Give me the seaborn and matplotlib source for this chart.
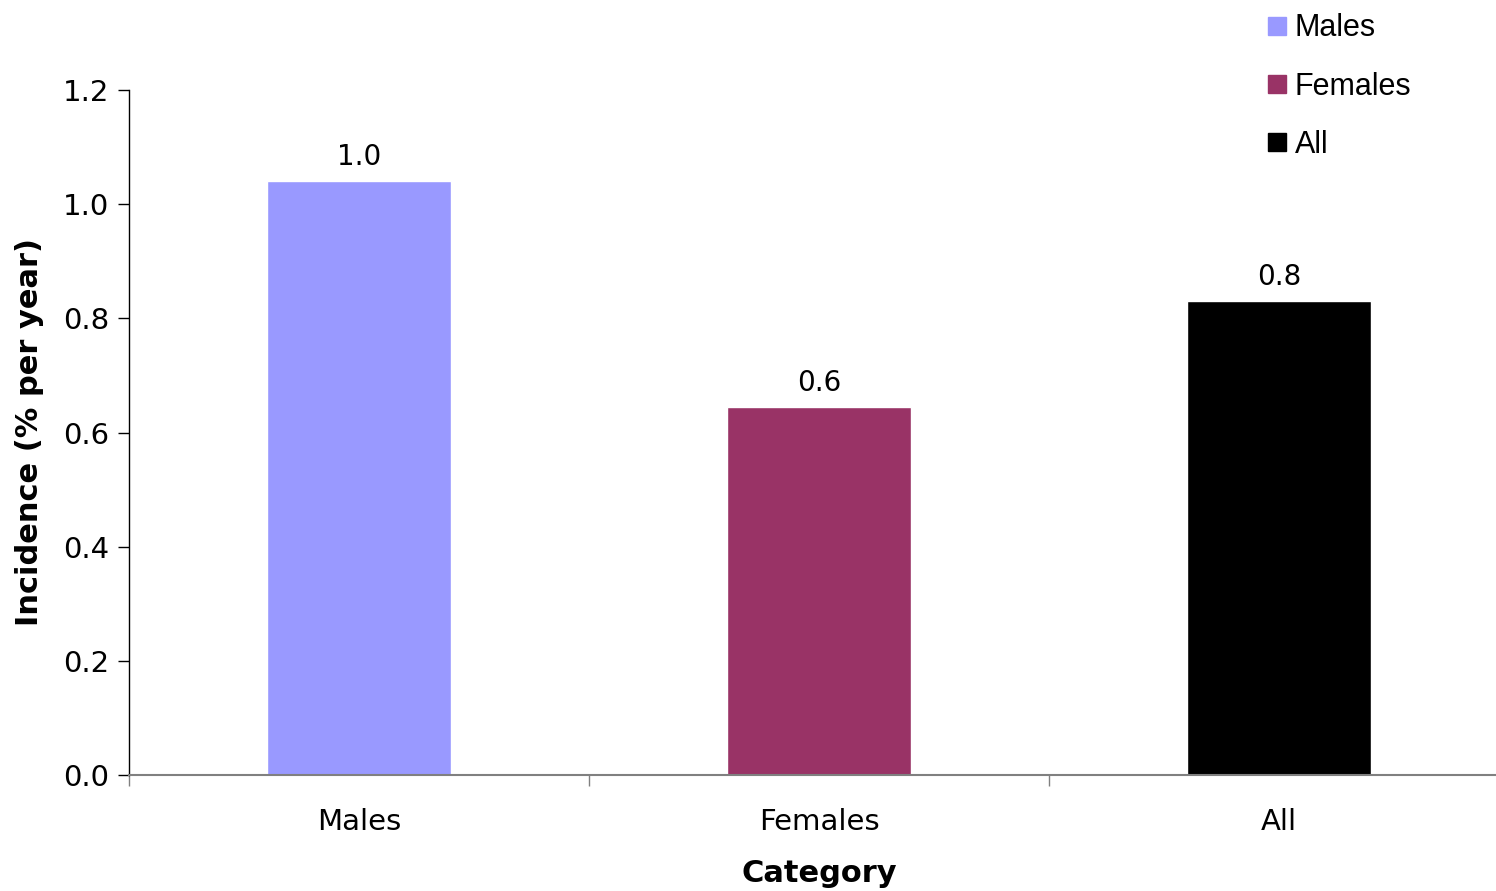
import matplotlib
matplotlib.use("Agg")
import matplotlib.pyplot as plt
from matplotlib.lines import Line2D
import seaborn as sns
import pandas as pd

categories = ["Males", "Females", "All"]
incidence = [1.04, 0.645, 0.83]
colors = ["#9999FF", "#993366", "#000000"]
y_ticks = [0.0, 0.2, 0.4, 0.6, 0.8, 1.0, 1.2]

df = pd.DataFrame({"Category": categories, "Incidence": incidence})

sns.set_theme(style="white")
plt.rcParams["font.family"] = ["DejaVu Sans"]
plt.rcParams["text.color"] = "black"
plt.rcParams["axes.labelcolor"] = "black"
plt.rcParams["xtick.color"] = "black"
plt.rcParams["ytick.color"] = "black"

fig = plt.figure(figsize=(14.96, 8.91), dpi=100)
ax = fig.add_axes([129 / 1496, 116 / 891, 1380 / 1496, 685 / 891])

sns.barplot(data=df, x="Category", y="Incidence", hue="Category",
            palette=colors, width=0.4, dodge=False, legend=False,
            saturation=1, ax=ax)

ax.set_xlim(-0.5, 2.5)
ax.set_ylim(0, 1.2)
ax.set_yticks(y_ticks)
ax.set_yticklabels([f"{v:.1f}" for v in y_ticks], fontsize=21)
ax.set_xticks(range(len(categories)))
ax.set_xticklabels(categories, fontsize=21)
ax.set_xticks([-0.5, 0.5, 1.5, 2.5], minor=True)
ax.tick_params(axis="x", which="major", length=0, pad=24)
ax.tick_params(axis="x", which="minor", length=8, width=1, color="#808080",
               direction="out", bottom=True)
ax.tick_params(axis="y", length=8, width=1, color="black", direction="out",
               left=True, pad=6)

for side in ["top", "right"]:
    ax.spines[side].set_visible(False)
ax.spines["left"].set_color("black")
ax.spines["left"].set_linewidth(1)
ax.spines["bottom"].set_color("#808080")
ax.spines["bottom"].set_linewidth(1.5)

for i, v in enumerate(incidence):
    ax.text(i, v + 0.018, f"{v:.1f}", ha="center", va="bottom", fontsize=20)

ax.set_xlabel("Category", fontsize=22, fontweight="bold", labelpad=16)
ax.set_ylabel("Incidence (% per year)", fontsize=22, fontweight="bold", labelpad=14)

handles = [Line2D([0], [0], marker="s", linestyle="none", markersize=13,
                  markerfacecolor=c, markeredgecolor=c) for c in colors]
fig.legend(handles, categories, loc="upper left",
           bbox_to_anchor=(1249 / 1496, 1 - 1 / 891), frameon=False,
           prop={"family": "Liberation Sans", "size": 22},
           labelspacing=0.93, handletextpad=0.1, handlelength=1.0,
           borderaxespad=0)

fig.savefig("out.png", dpi=100)
